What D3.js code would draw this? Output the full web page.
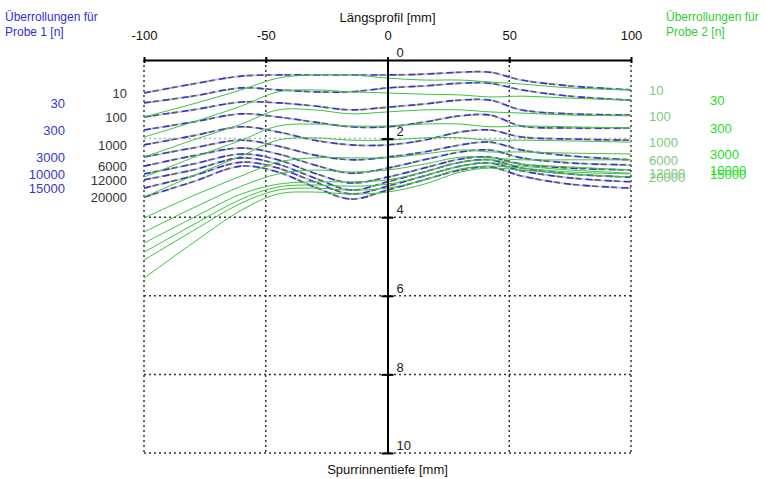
<!DOCTYPE html>
<html>
<head>
<meta charset="utf-8">
<script src="https://cdn.jsdelivr.net/npm/d3@7"></script>
<style>
  body { margin: 0; background: #fff; }
  svg { font-family: "Liberation Sans", Arial, sans-serif; }
</style>
</head>
<body>
<div id="chart"></div>
<script>
// positions along the profile [mm]
var profileX = [-100, -80, -60, -45, -30, -15, 0, 15, 30, 42, 55, 75, 100];
var cycles = [10, 30, 100, 300, 1000, 3000, 6000, 10000, 12000, 15000, 20000];

// rut depth [mm], sample 1 (blue)
var probe1 = [
  [0.84, 0.61, 0.41, 0.38, 0.38, 0.38, 0.38, 0.36, 0.31, 0.31, 0.51, 0.66, 0.76],
  [1.09, 0.92, 0.71, 0.76, 0.81, 0.81, 0.71, 0.66, 0.59, 0.59, 0.76, 0.92, 1.02],
  [1.45, 1.27, 1.07, 1.09, 1.17, 1.27, 1.20, 1.12, 1.02, 1.02, 1.27, 1.37, 1.40],
  [1.78, 1.58, 1.37, 1.45, 1.58, 1.70, 1.70, 1.58, 1.42, 1.40, 1.68, 1.73, 1.73],
  [2.16, 1.93, 1.70, 1.83, 2.04, 2.16, 2.16, 2.04, 1.83, 1.78, 1.96, 2.01, 2.04],
  [2.47, 2.24, 2.04, 2.19, 2.42, 2.54, 2.47, 2.34, 2.16, 2.09, 2.29, 2.44, 2.54],
  [2.70, 2.44, 2.24, 2.39, 2.67, 2.88, 2.75, 2.54, 2.34, 2.29, 2.49, 2.62, 2.67],
  [2.90, 2.65, 2.39, 2.54, 2.88, 3.13, 2.98, 2.75, 2.52, 2.47, 2.65, 2.75, 2.80],
  [3.05, 2.80, 2.49, 2.65, 3.00, 3.31, 3.10, 2.85, 2.60, 2.54, 2.75, 2.90, 2.98],
  [3.26, 2.95, 2.60, 2.75, 3.10, 3.41, 3.21, 2.95, 2.70, 2.62, 2.82, 3.00, 3.10],
  [3.49, 3.10, 2.70, 2.85, 3.23, 3.54, 3.31, 3.05, 2.80, 2.72, 2.95, 3.16, 3.26]
];

// rut depth [mm], sample 2 (green)
var probe2 = [
  [1.45, 1.12, 0.76, 0.46, 0.38, 0.38, 0.46, 0.51, 0.51, 0.56, 0.61, 0.71, 0.76],
  [1.96, 1.58, 1.17, 0.81, 0.76, 0.81, 0.84, 0.87, 0.89, 0.94, 0.92, 0.97, 1.02],
  [2.47, 2.04, 1.63, 1.27, 1.27, 1.37, 1.32, 1.27, 1.27, 1.32, 1.35, 1.40, 1.42],
  [2.98, 2.49, 2.04, 1.68, 1.63, 1.68, 1.68, 1.63, 1.63, 1.70, 1.68, 1.70, 1.73],
  [3.49, 2.95, 2.44, 2.04, 1.98, 2.04, 2.04, 1.98, 1.98, 2.04, 2.04, 2.06, 2.09],
  [4.02, 3.46, 2.95, 2.60, 2.49, 2.49, 2.49, 2.39, 2.29, 2.34, 2.34, 2.37, 2.39],
  [4.38, 3.77, 3.21, 2.90, 2.80, 2.85, 2.80, 2.65, 2.47, 2.49, 2.54, 2.54, 2.54],
  [4.66, 4.02, 3.41, 3.16, 3.10, 3.10, 3.05, 2.85, 2.60, 2.54, 2.65, 2.72, 2.80],
  [4.89, 4.20, 3.54, 3.23, 3.18, 3.21, 3.16, 2.95, 2.70, 2.62, 2.70, 2.80, 2.88],
  [5.09, 4.35, 3.64, 3.31, 3.26, 3.31, 3.26, 3.05, 2.77, 2.70, 2.75, 2.85, 2.90],
  [5.55, 4.66, 3.82, 3.41, 3.36, 3.41, 3.36, 3.16, 2.85, 2.75, 2.80, 2.90, 2.98]
];

var xTicks = [-100, -50, 0, 50, 100];
var yTicks = [0, 2, 4, 6, 8, 10];

var svg = d3.select("#chart").append("svg")
  .attr("width", 766)
  .attr("height", 479);

var x = d3.scaleLinear().domain([-100, 100]).range([144, 631]);
var y = d3.scaleLinear().domain([0, 10]).range([60, 453]);

// dotted grid
svg.append("g").selectAll("line")
  .data(xTicks.filter(function(d){ return d != 0; }))
  .enter().append("line")
  .attr("x1", function(d){ return x(d); })
  .attr("x2", function(d){ return x(d); })
  .attr("y1", y(0)).attr("y2", y(10))
  .attr("stroke", "#333")
  .attr("stroke-width", 1.5)
  .attr("stroke-dasharray", "2,3");

svg.append("g").selectAll("line")
  .data(yTicks.filter(function(d){ return d != 0; }))
  .enter().append("line")
  .attr("x1", x(-100)).attr("x2", x(100))
  .attr("y1", function(d){ return y(d); })
  .attr("y2", function(d){ return y(d); })
  .attr("stroke", function(d){ return d == 2 ? "#b4b4b4" : "#333"; })
  .attr("stroke-width", 1.5)
  .attr("stroke-dasharray", "2,3");

var line = d3.line()
  .x(function(d, i){ return x(profileX[i]); })
  .y(function(d){ return y(d); })
  .curve(d3.curveCatmullRom.alpha(0.5));

// sample 1: light base plus broken blue / grey strokes
var g1 = svg.append("g");
g1.selectAll(".base").data(probe1).enter().append("path")
  .attr("d", line).attr("fill", "none")
  .attr("stroke", "#c6c6ec").attr("stroke-width", 2);
g1.selectAll(".blue").data(probe1).enter().append("path")
  .attr("d", line).attr("fill", "none")
  .attr("stroke", "#3636b8").attr("stroke-width", 1.6)
  .attr("stroke-dasharray", "7,12");
g1.selectAll(".grey").data(probe1).enter().append("path")
  .attr("d", line).attr("fill", "none")
  .attr("stroke", "#5a5a6c").attr("stroke-width", 1.6)
  .attr("stroke-dasharray", "6,13")
  .attr("stroke-dashoffset", -9);

// sample 2
svg.append("g").selectAll("path").data(probe2).enter().append("path")
  .attr("d", line).attr("fill", "none")
  .attr("stroke", "#3cc43c").attr("stroke-width", 1);

// axes
var xAxis = svg.append("g")
  .attr("transform", "translate(0," + y(0) + ")")
  .call(d3.axisTop(x).tickValues(xTicks)
    .tickFormat(function(d){ return String(d); })
    .tickSizeInner(3).tickSizeOuter(0).tickPadding(17));
xAxis.select(".domain").attr("stroke", "#000").attr("stroke-width", 2);
xAxis.selectAll(".tick line").attr("y1", 3).attr("stroke-width", 2);
xAxis.selectAll(".tick text")
  .style("font-size", "13px").attr("fill", "#111")
  .style("font-family", "'Liberation Sans', Arial, sans-serif");

var yAxis = svg.append("g")
  .attr("transform", "translate(" + x(0) + ",0)")
  .call(d3.axisRight(y).tickValues(yTicks).tickSizeInner(6).tickSizeOuter(0).tickPadding(3));
yAxis.select(".domain").attr("stroke", "#000").attr("stroke-width", 2);
yAxis.selectAll(".tick line").attr("x1", -6).attr("stroke-width", 2)
  .attr("opacity", function(d){ return d == 0 ? 0 : 1; });
yAxis.selectAll(".tick text")
  .attr("dy", "-0.25em")
  .style("font-size", "13px").attr("fill", "#222")
  .style("font-family", "'Liberation Sans', Arial, sans-serif");

// titles
svg.append("text").attr("x", x(0)).attr("y", 22)
  .attr("text-anchor", "middle").style("font-size", "13px").attr("fill", "#111")
  .text("Längsprofil [mm]");
svg.append("text").attr("x", x(0)).attr("y", 474)
  .attr("text-anchor", "middle").style("font-size", "13px").attr("fill", "#111")
  .text("Spurrinnentiefe [mm]");

svg.append("text").attr("x", 5).attr("y", 21)
  .style("font-size", "12px").attr("fill", "#2f2fd8")
  .selectAll("tspan").data(["Überrollungen für", "Probe 1 [n]"]).enter()
  .append("tspan").attr("x", 5).attr("dy", function(d, i){ return i ? 15 : 0; })
  .text(function(d){ return d; });
svg.append("text").attr("x", 666).attr("y", 21)
  .style("font-size", "12px").attr("fill", "#33cc33")
  .selectAll("tspan").data(["Überrollungen für", "Probe 2 [n]"]).enter()
  .append("tspan").attr("x", 666).attr("dy", function(d, i){ return i ? 15 : 0; })
  .text(function(d){ return d; });

// cycle labels at line ends
svg.append("g").selectAll("text").data(cycles).enter().append("text")
  .attr("x", function(d, i){ return i % 2 ? 65 : 127; })
  .attr("y", function(d, i){ return y(probe1[i][0]) + 5; })
  .attr("text-anchor", "end")
  .style("font-size", "13px")
  .attr("fill", function(d, i){ return i % 2 ? "#3636d0" : "#333"; })
  .text(function(d){ return d; });

svg.append("g").selectAll("text").data(cycles).enter().append("text")
  .attr("x", function(d, i){ return i % 2 ? 710 : 649; })
  .attr("y", function(d, i){ return y(probe2[i][probe2[i].length - 1]) + 5; })
  .style("font-size", "13px")
  .attr("fill", function(d, i){ return i % 2 ? "#22dd22" : "#80c880"; })
  .text(function(d){ return d; });
</script>
</body>
</html>
